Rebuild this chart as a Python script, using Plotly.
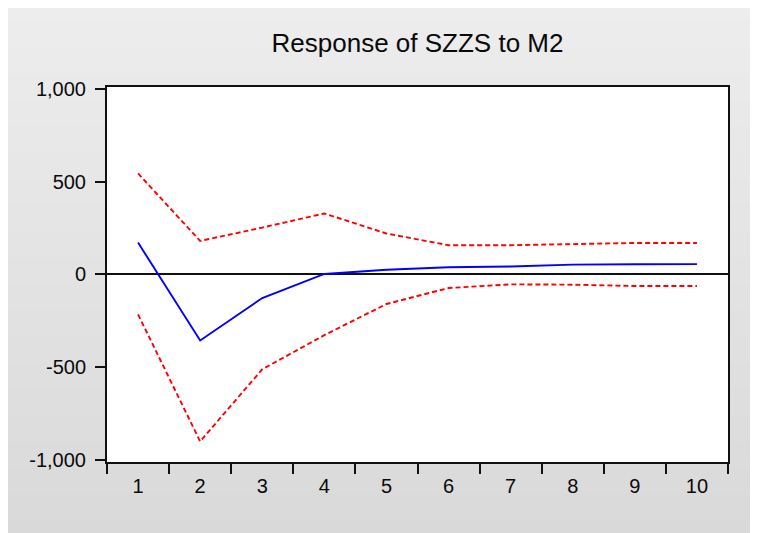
import plotly.graph_objects as go

# ---- data ----
periods = ["1", "2", "3", "4", "5", "6", "7", "8", "9", "10"]
response = [171, -357, -128, 2, 25, 38, 42, 52, 54, 55]
upper_band = [544, 180, 252, 328, 220, 157, 157, 162, 169, 169]
lower_band = [-216, -901, -512, -328, -160, -74, -54, -56, -63, -63]
y_ticks = [-1000, -500, 0, 500, 1000]
y_tick_text = ["-1,000", "-500", "0", "500", "1,000"]
title_text = "Response of SZZS to M2"

# figure sits inside the page body (8px default margin) -> white strip top/left
W, H = 750, 525
L, R, T, B = 99, 30, 79, 71
pw, ph = W - L - R, H - T - B

def px_x(x):
    return (x - L) / pw

def px_y(y):
    return (H - B - y) / ph

fig = go.Figure()

fig.add_trace(go.Scatter(x=periods, y=upper_band, mode="lines",
                         line=dict(color="#ff0000", width=1.9, dash="5px,3px"),
                         showlegend=False, hoverinfo="skip"))
fig.add_trace(go.Scatter(x=periods, y=lower_band, mode="lines",
                         line=dict(color="#ff0000", width=1.9, dash="5px,3px"),
                         showlegend=False, hoverinfo="skip"))
fig.add_trace(go.Scatter(x=periods, y=response, mode="lines",
                         line=dict(color="#0000ff", width=1.9),
                         showlegend=False))

# gray vertical gradient panel behind the chart
shapes = []
n = 40
c0, c1 = 237, 217
for i in range(n):
    y0 = H * i / n
    y1 = H * (i + 1) / n + 0.6
    c = round(c0 + (c1 - c0) * (i + 0.5) / n)
    shapes.append(dict(type="rect", xref="paper", yref="paper", layer="below",
                       x0=px_x(-2), x1=px_x(W + 2), y0=px_y(min(y1, H + 2)), y1=px_y(y0 - (2 if i == 0 else 0)),
                       fillcolor=f"rgb({c},{c},{c})", line=dict(width=0)))
shapes.append(dict(type="rect", xref="paper", yref="paper", layer="below",
                   x0=0, x1=1, y0=0, y1=1, fillcolor="white", line=dict(width=0)))

axis_font = dict(family="Liberation Sans, Arial, sans-serif", size=20, color="#0a0a0a")

fig.update_layout(
    width=W, height=H,
    margin=dict(l=L, r=R, t=T, b=B),
    paper_bgcolor="rgb(227,227,227)",
    plot_bgcolor="white",
    shapes=shapes,
    title=dict(text=title_text, x=0.5, xref="paper", xanchor="center",
               y=1 - 35 / H, yref="container", yanchor="middle",
               font=dict(family="Liberation Sans, Arial, sans-serif", size=26, color="#0a0a0a")),
    xaxis=dict(type="category", tickson="boundaries", ticks="outside", ticklen=10,
               tickwidth=2, tickcolor="#111111", showgrid=False, zeroline=False,
               showline=True, linewidth=2, linecolor="#111111", mirror=True,
               tickfont=axis_font, ticklabelstandoff=5, range=[-0.5, 9.5], fixedrange=True),
    yaxis=dict(range=[-1012, 1010], tickvals=y_ticks, ticktext=y_tick_text,
               ticks="outside", ticklen=10, tickwidth=2, tickcolor="#111111",
               showgrid=False, zeroline=True, zerolinecolor="#111111", zerolinewidth=2,
               showline=True, linewidth=2, linecolor="#111111", mirror=True,
               tickfont=axis_font, ticklabelstandoff=5, fixedrange=True),
)

fig.write_html("out.html")
